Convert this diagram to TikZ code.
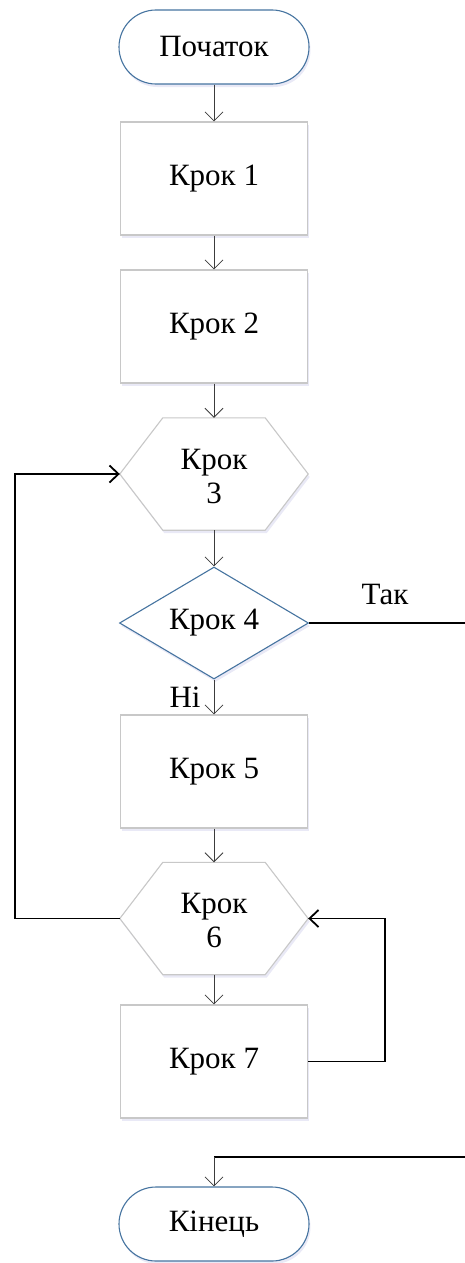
\documentclass[tikz,border=0pt]{standalone}
\usepackage{fontspec}
\setmainfont{Liberation Serif}
\usetikzlibrary{shapes.geometric,arrows.meta,shadows}
\definecolor{termblue}{RGB}{70,116,160}
\definecolor{boxgray}{RGB}{200,200,200}
\definecolor{flowgray}{RGB}{60,60,60}
\begin{document}
\begin{tikzpicture}[x=1pt,y=-1pt,
  font=\fontsize{31}{34}\selectfont,
  softshadow/.style={drop shadow={opacity=0.12,shadow xshift=1.5pt,shadow yshift=-3pt,fill=blue!40!gray}},
  terminal/.style={draw=termblue,line width=1.1pt,fill=white,rounded corners=37pt,
    minimum width=190pt,minimum height=74pt,inner sep=0pt,softshadow},
  stepbox/.style={draw=boxgray,line width=1.1pt,fill=white,
    minimum width=187pt,minimum height=113pt,inner sep=0pt,softshadow},
  hexnode/.style={minimum width=188pt,minimum height=112pt,inner sep=0pt,align=center},
  hexline/.style={draw=boxgray,line width=1.1pt,fill=white,softshadow},
  decision/.style={diamond,draw=termblue,line width=1.1pt,fill=white,aspect=1.69,
    minimum width=189pt,minimum height=112pt,inner sep=0pt,softshadow},
  flow/.style={draw=flowgray,line width=0.8pt,-{Straight Barb[length=9pt,width=18pt]}},
  loopline/.style={draw=black,line width=1.8pt},
  looparrow/.style={loopline,-{Straight Barb[length=9pt,width=17pt]}}
]
\useasboundingbox (0,0) rectangle (465,1263);

% hexagon outline drawn around a plain node
\newcommand{\hexoutline}[1]{%
  \path[hexline] (#1.west) -- ([xshift=43pt]#1.north west) -- ([xshift=-43pt]#1.north east)
    -- (#1.east) -- ([xshift=-43pt]#1.south east) -- ([xshift=43pt]#1.south west) -- cycle;}

\node[terminal] (start) at (214,47) {Початок};
\node[stepbox] (k1) at (214,178.5) {Крок 1};
\node[stepbox] (k2) at (214,326.5) {Крок 2};
\node[hexnode] (k3) at (214,474) {};
\hexoutline{k3}
\node[align=center] at ([yshift=-2pt]k3) {Крок\\3};
\node[decision] (k4) at (214,623) {Крок 4};
\node[stepbox] (k5) at (214,771.5) {Крок 5};
\node[hexnode] (k6) at (214,918.5) {};
\hexoutline{k6}
\node[align=center] at ([yshift=-2pt]k6) {Крок\\6};
\node[stepbox] (k7) at (214,1061.5) {Крок 7};
\node[terminal] (end) at (214,1224) {Кінець};

% labels of the decision branches
\node (yes) at (385,594) {Так};
\node (no) at (185,697) {Ні};

% main flow
\draw[flow] (start) -- (k1);
\draw[flow] (k1) -- (k2);
\draw[flow] (k2) -- (k3.north);
\draw[flow] (k3.south) -- (k4);
\draw[flow] (k4) -- (k5);
\draw[flow] (k5) -- (k6.north);
\draw[flow] (k6.south) -- (k7);

% loops
\draw[looparrow] (k6.west) -- ++(-105,0) |- (k3.west);
\draw[looparrow] (k7.east) -- ++(77,0) |- (k6.east);

% "yes" branch leaving to the right and coming back to the end
\coordinate (yesout) at (465,623);
\coordinate (yesin) at (465,1157);
\coordinate (yesturn) at (214,1157);
\draw[loopline] (k4.east) -- (yesout);
\draw[loopline] (yesin) -- (yesturn);
\draw[flow] (yesturn) -- (end);
\end{tikzpicture}
\end{document}
